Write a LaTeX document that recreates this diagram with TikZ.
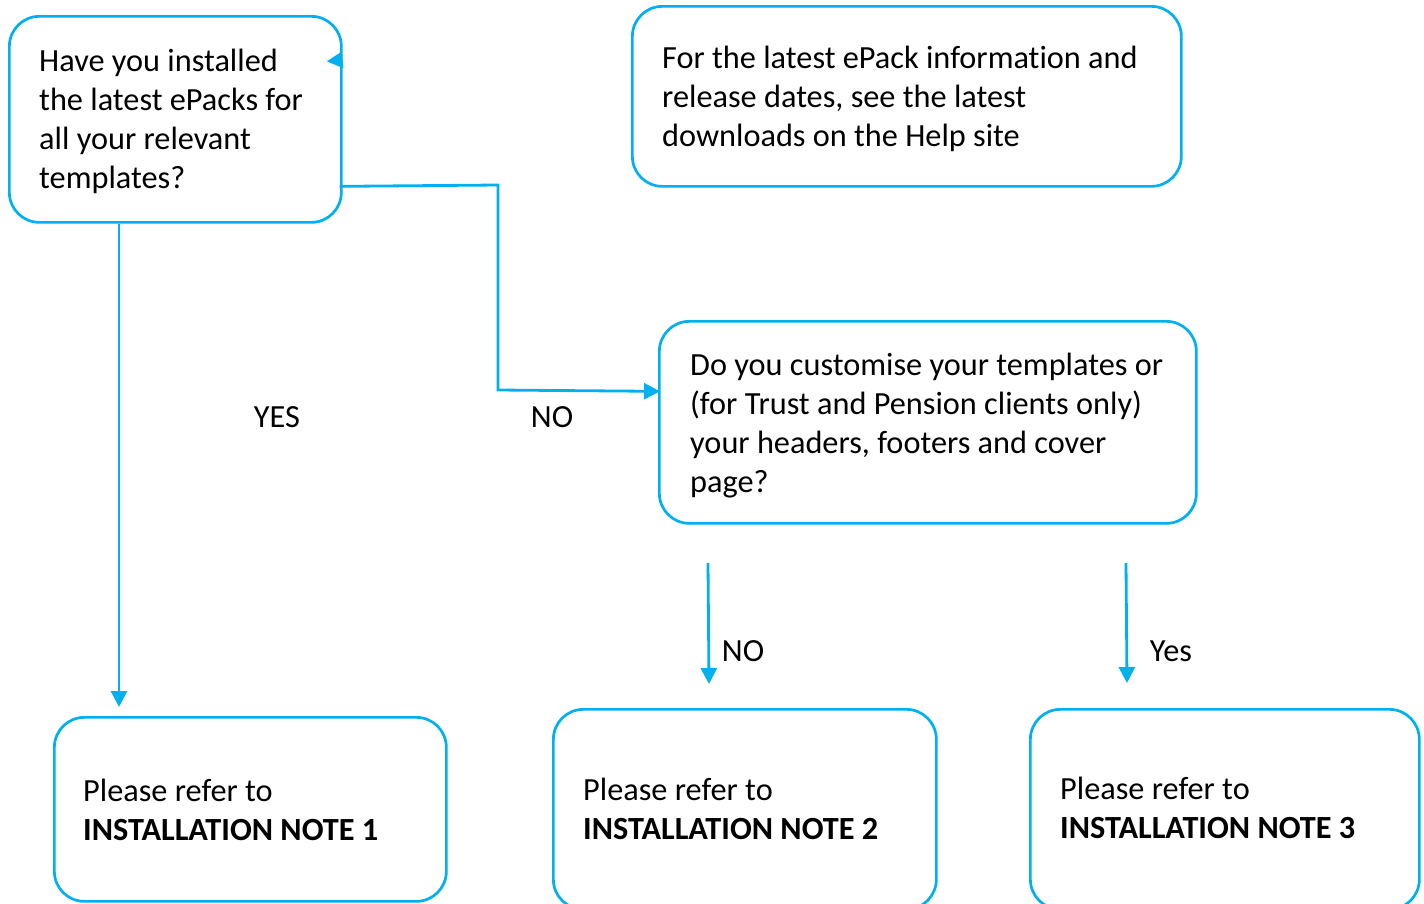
\documentclass[tikz,border=0pt]{standalone}
\usepackage{fontspec}
\setmainfont[Ligatures=NoCommon]{Carlito}
\usetikzlibrary{arrows.meta,calc}
\definecolor{lb}{HTML}{00B0F0}
\tikzset{
  box/.style={draw=lb,line width=2.7pt,rounded corners=30pt,inner sep=0pt,anchor=north west},
  txt/.style={font=\fontsize{32.3}{39}\selectfont,align=left,inner sep=0pt,anchor=north west},
  lbl/.style={font=\fontsize{32.3}{39}\selectfont,inner sep=0pt},
  arr/.style={draw=lb,line width=2.8pt,-{Triangle[length=16pt,width=16pt]}}
}
\begin{document}
\begin{tikzpicture}[x=1pt,y=-1pt]
\useasboundingbox (0,0) rectangle (1424,903);
\clip (0,0) rectangle (1424,903);
% boxes
\node[box,minimum width=332pt,minimum height=206pt] (A) at (8,15) {};
\node[box,minimum width=549pt,minimum height=180pt] (B) at (631,5) {};
\node[box,minimum width=537pt,minimum height=202pt] (C) at (658,320) {};
\node[box,minimum width=392pt,minimum height=184pt] (D) at (53,716) {};
\node[box,minimum width=383pt,minimum height=200pt] (E) at (552,708) {};
\node[box,minimum width=389pt,minimum height=200pt] (F) at (1029,708) {};
% texts
\node[txt] (tA) at (39,49) {Have you installed\\the latest ePacks for\\all your relevant\\templates?};
\node[txt] (tB) at (662,46) {For the latest ePack information and\\release dates, see the latest\\downloads on the Help site};
\node[txt] (tC) at (690,353) {Do you customise your templates or\\(for Trust and Pension clients only)\\your headers, footers and cover\\page?};
\node[txt] (tD) at (83,779) {Please refer to\\\textbf{INSTALLATION NOTE 1}};
\node[txt] (tE) at (583,778) {Please refer to\\\textbf{INSTALLATION NOTE 2}};
\node[txt] (tF) at (1060,777) {Please refer to\\\textbf{INSTALLATION NOTE 3}};
% labels
\node[lbl] (yes1) at (277,417) {YES};
\node[lbl] (no1) at (552,417) {NO};
\node[lbl] (no2) at (743,651) {NO};
\node[lbl] (yes2) at (1171,651) {Yes};
% coordinates
\coordinate (a1) at (119,707);
\coordinate (n1) at (708,563);
\coordinate (n2) at (709,684);
\coordinate (y1) at (1126,563);
\coordinate (y2) at (1127,683);
\coordinate (s1) at (341,60);
% connectors
\draw[arr] ([xshift=111pt]A.south west) -- (a1);
\draw[arr] ([yshift=-67pt,xshift=-3pt]A.east) -- (498,185) -- (498,390) -- ([yshift=31pt,xshift=2pt]C.west);
\draw[arr] (n1) -- (n2);
\draw[arr] (y1) -- (y2);
\draw[arr] (s1) -- ([yshift=58pt,xshift=-16pt]A.east);
\end{tikzpicture}
\end{document}
